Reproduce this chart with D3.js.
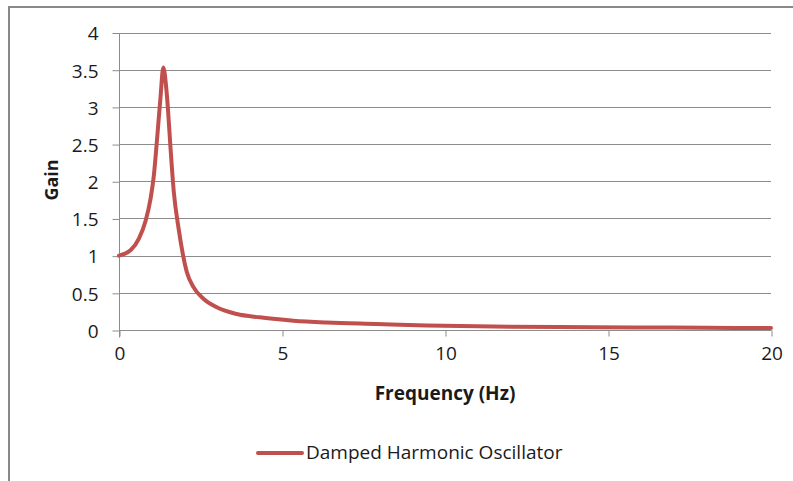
<!DOCTYPE html>
<html>
<head>
<meta charset="utf-8">
<script src="https://cdn.jsdelivr.net/npm/d3@7"></script>
<style>
  body { margin: 0; background: #fff; }
  svg { display: block; }
  text { font-family: "Open Sans", sans-serif; fill: #1a1a1a; }
</style>
</head>
<body>
<svg id="chart"></svg>
<script>
var width = 793;
var height = 481;

// values
var freq = [0, 0.36, 0.61, 0.81, 0.97, 1.07, 1.17, 1.27, 1.36, 1.45, 1.50, 1.58, 1.68, 1.83,
            1.95, 2.08, 2.28, 2.59, 3.0, 3.61, 4.32, 4.89, 5.35, 6.37, 7.9, 9.44, 11.5, 13.5, 15.8, 18, 20];
var gain = [1.0, 1.075, 1.23, 1.46, 1.77, 2.08, 2.58, 3.11, 3.53, 3.25, 2.98, 2.45, 1.86, 1.36,
            1.04, 0.78, 0.58, 0.42, 0.305, 0.215, 0.17, 0.143, 0.125, 0.10, 0.08, 0.06, 0.046, 0.04, 0.035, 0.03, 0.027];
var xTicks = [0, 5, 10, 15, 20];
var yTicks = [0, 0.5, 1, 1.5, 2, 2.5, 3, 3.5, 4];
var seriesName = "Damped Harmonic Oscillator";

var lineColor = "#c0504d";
var gridColor = "#8c8c8c";

var svg = d3.select("#chart").attr("width", width).attr("height", height);

// outer chart border
svg.append("rect")
    .attr("x", 9).attr("y", 7)
    .attr("width", 800).attr("height", 500)
    .attr("fill", "none")
    .attr("stroke", "#898989")
    .attr("stroke-width", 2);

var x = d3.scaleLinear().domain([0, 20]).range([119, 771]);
var y = d3.scaleLinear().domain([0, 4]).range([330, 32.5]);

// horizontal gridlines
svg.append("g").selectAll("line").data(yTicks.filter(d => d > 0))
    .enter().append("line")
    .attr("x1", x(0)).attr("x2", x(20))
    .attr("y1", d => Math.round(y(d)) + 0.5)
    .attr("y2", d => Math.round(y(d)) + 0.5)
    .attr("stroke", gridColor)
    .attr("stroke-width", 1);

// y axis
var yAxis = svg.append("g")
    .attr("transform", "translate(" + (x(0) + 0.5) + ",0.5)")
    .call(d3.axisLeft(y).tickValues(yTicks).tickSize(7).tickPadding(14)
        .tickFormat(d3.format("")));
yAxis.select(".domain").attr("stroke", gridColor).attr("d", "M0," + y(4) + "V" + (y(0) + 7));
yAxis.selectAll(".tick line").attr("stroke", gridColor).attr("x2", -7);
yAxis.selectAll(".tick text").style("font-size", "19px").attr("dy", "0.36em");

// x axis
var xAxis = svg.append("g")
    .attr("transform", "translate(0.5," + (Math.round(y(0)) + 0.5) + ")")
    .call(d3.axisBottom(x).tickValues(xTicks).tickSize(6).tickPadding(10));
xAxis.select(".domain").attr("stroke", gridColor).attr("d", "M" + x(0) + ",0H" + x(20));
xAxis.selectAll(".tick line").attr("stroke", gridColor);
xAxis.selectAll(".tick text").style("font-size", "19px");

// axis titles
svg.append("text")
    .attr("x", (x(0) + x(20)) / 2).attr("y", 400)
    .attr("text-anchor", "middle")
    .style("font-size", "19px").style("font-weight", "bold")
    .text("Frequency (Hz)");

svg.append("text")
    .attr("transform", "translate(58,180) rotate(-90)")
    .attr("text-anchor", "middle")
    .style("font-size", "18px").style("font-weight", "bold")
    .text("Gain");

// data line
var pts = freq.map((f, i) => [f, gain[i]]);
var line = d3.line()
    .x(d => x(d[0]))
    .y(d => y(d[1]))
    .curve(d3.curveMonotoneX);

svg.append("path")
    .datum(pts)
    .attr("d", line)
    .attr("fill", "none")
    .attr("stroke", lineColor)
    .attr("stroke-width", 4)
    .attr("stroke-linejoin", "round")
    .attr("stroke-linecap", "round");

// legend
svg.append("line")
    .attr("x1", 258).attr("x2", 302)
    .attr("y1", 453).attr("y2", 453)
    .attr("stroke", lineColor)
    .attr("stroke-width", 4)
    .attr("stroke-linecap", "round");
svg.append("text")
    .attr("x", 306).attr("y", 459)
    .style("font-size", "19px")
    .text(seriesName);
</script>
</body>
</html>
